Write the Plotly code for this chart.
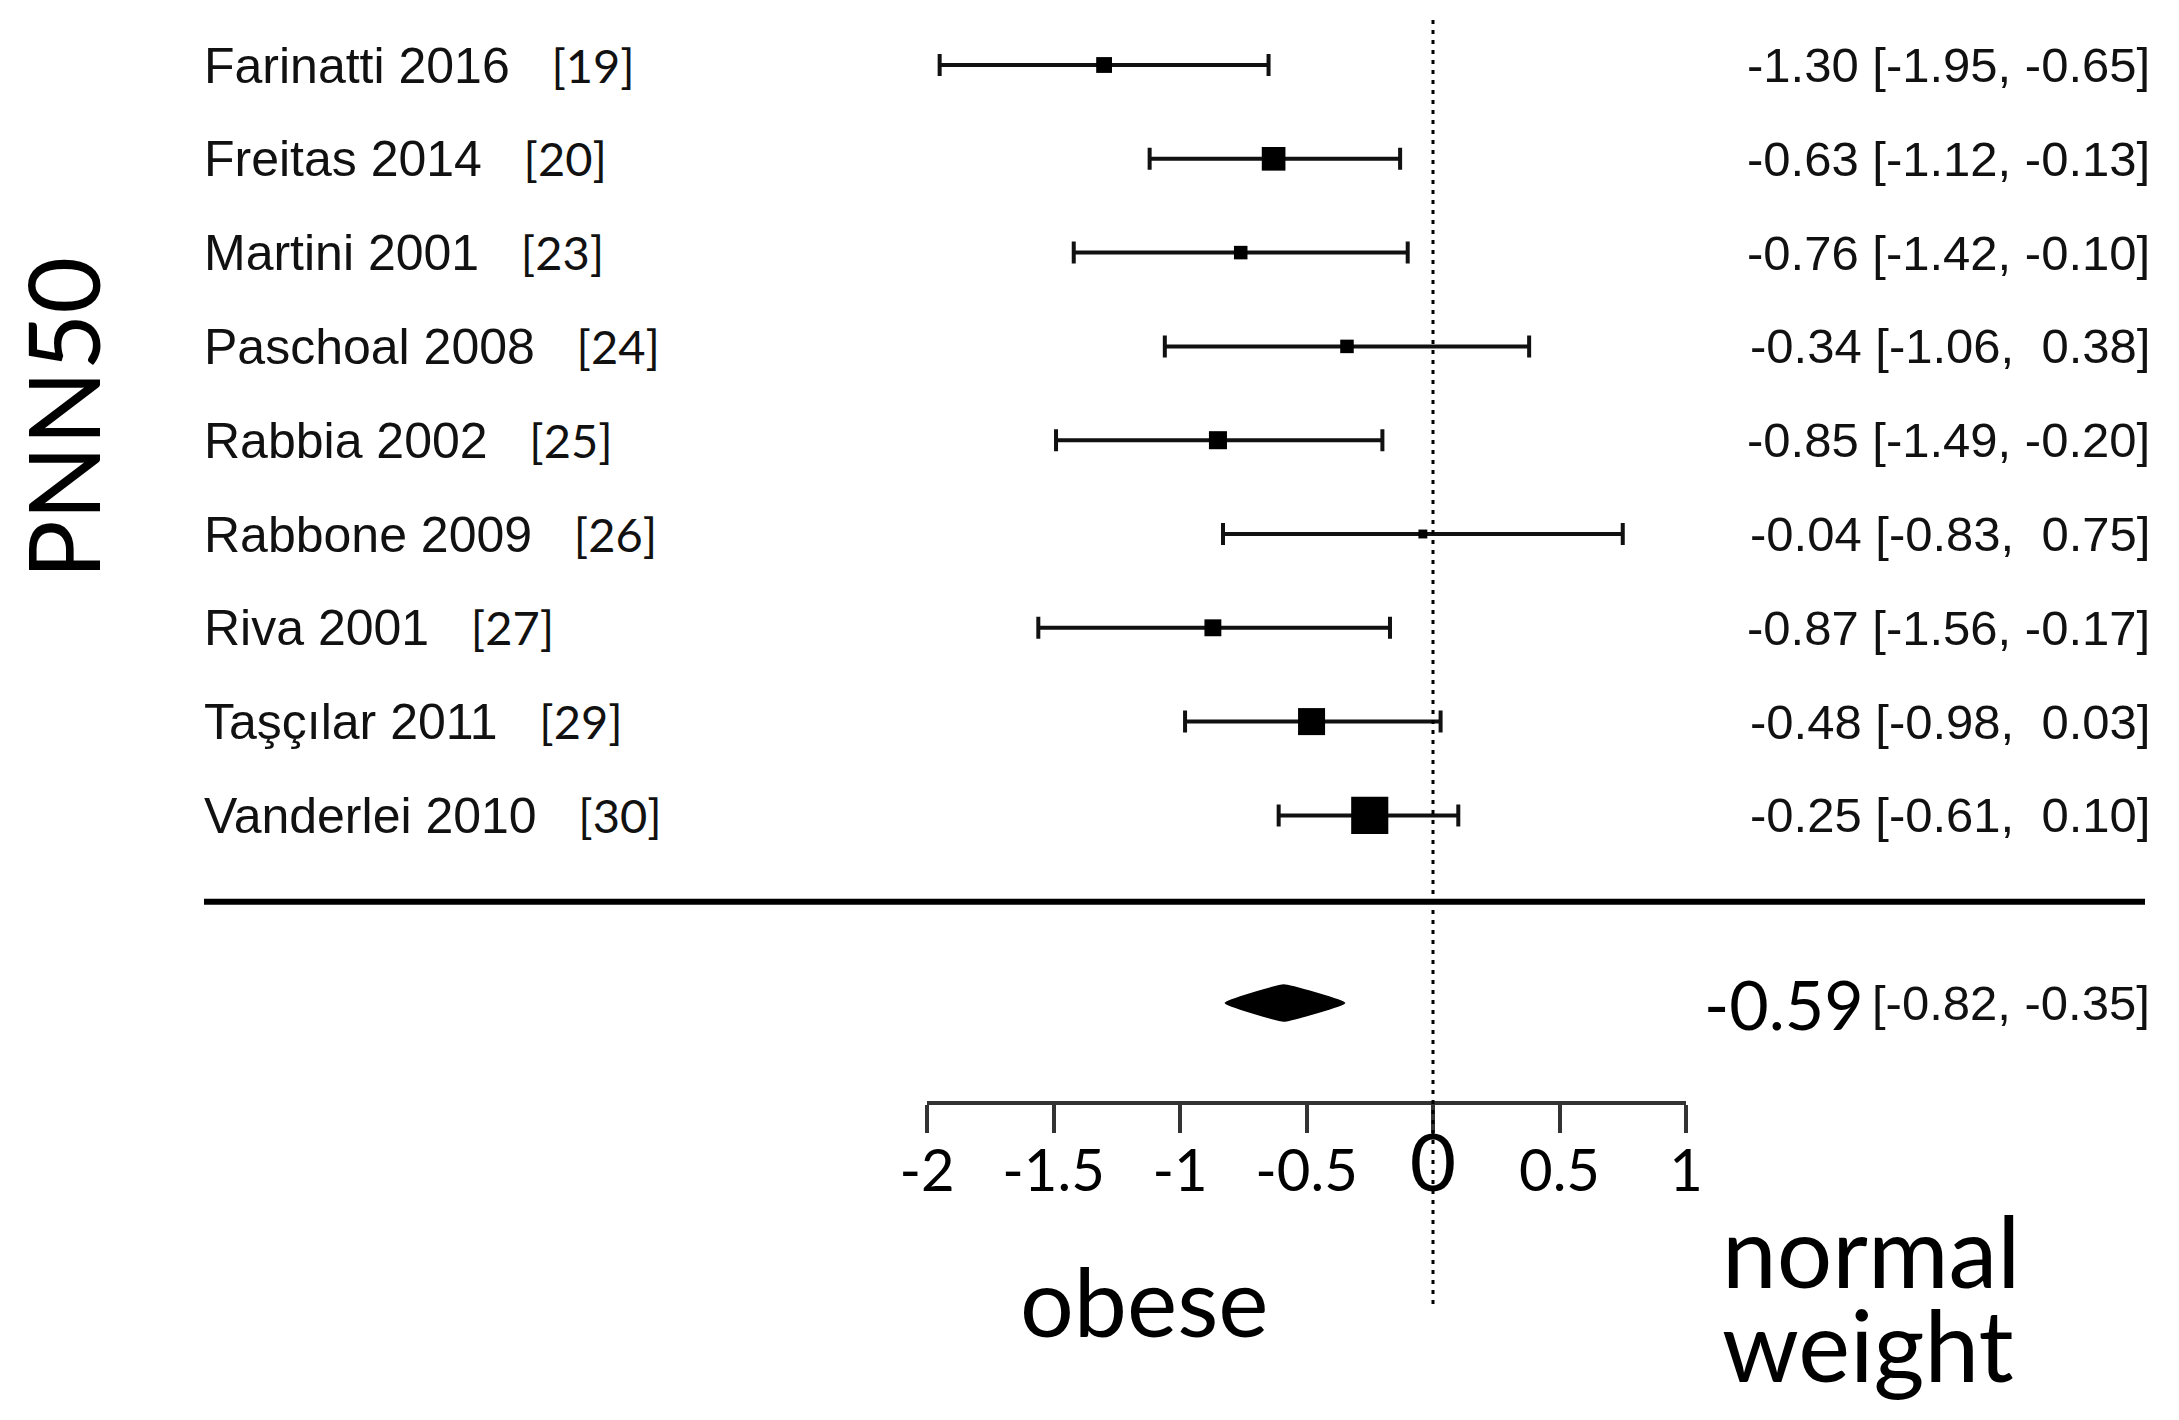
import plotly.graph_objects as go

# ---------------- data ----------------
studies = ["Farinatti 2016", "Freitas 2014", "Martini 2001", "Paschoal 2008",
           "Rabbia 2002", "Rabbone 2009", "Riva 2001", "Taşçılar 2011", "Vanderlei 2010"]
refs = ["[19]", "[20]", "[23]", "[24]", "[25]", "[26]", "[27]", "[29]", "[30]"]
estimates = [-1.30, -0.63, -0.76, -0.34, -0.85, -0.04, -0.87, -0.48, -0.25]
lower = [-1.95, -1.12, -1.42, -1.06, -1.49, -0.83, -1.56, -0.98, -0.61]
upper = [-0.65, -0.13, -0.10, 0.38, -0.20, 0.75, -0.17, 0.03, 0.10]
weights = [6.3, 14.1, 4.6, 4.6, 8.2, 2.0, 7.2, 18.4, 34.7]   # approx. relative weights (%)

pooled_est = -0.59
pooled_lo = -0.82
pooled_hi = -0.35

tick_vals = [-2, -1.5, -1, -0.5, 0, 0.5, 1]
tick_labels = ["-2", "-1.5", "-1", "-0.5", "0", "0.5", "1"]

outcome_label = "PNN50"
left_label = "obese"
right_label = ["normal", "weight"]

# ---------------- layout geometry ----------------
W, H = 2179, 1420
OFF = 8                      # page offset of the figure (body margin)
AX_LEFT_PX, AX_RIGHT_PX = 927, 1686     # page px of x=-2 and x=1
AX_LINE_PX = 1101                        # page px of the axis line
ROW0_PX, ROW_STEP = 65, 93.8             # page px of first row, row spacing

L_M = AX_LEFT_PX - OFF
R_M = W - (AX_RIGHT_PX - OFF)
T_M = 0
B_M = H - (AX_LINE_PX - OFF)
plot_w = W - L_M - R_M
plot_h = H - T_M - B_M
XMIN, XMAX = -2, 1
Y_TOP = -(ROW0_PX - OFF - T_M) / ROW_STEP
Y_BOT = Y_TOP + plot_h / ROW_STEP


def px_to_paper_x(px):
    return (px - OFF - L_M) / plot_w


def px_to_paper_y(py):
    return (T_M + plot_h - (py - OFF)) / plot_h


rows = list(range(len(studies)))
pooled_row = 10
sep_row = 8.92

INK = "#000000"
NAME_FONT = "Liberation Sans, Arial, sans-serif"
CAL_FONT = "Lato, Carlito, Calibri, sans-serif"


def fmt(v):
    s = f"{v:.2f}"
    return s if v < 0 else "\u00a0" + s


fig = go.Figure()

# study estimates with CI
fig.add_trace(go.Scatter(
    x=estimates, y=rows, mode="markers",
    marker=dict(symbol="square", color=INK, opacity=1,
                size=[6.3 * w ** 0.5 for w in weights], line=dict(width=0)),
    error_x=dict(type="data", symmetric=False,
                 array=[u - e for u, e in zip(upper, estimates)],
                 arrayminus=[e - l for e, l in zip(estimates, lower)],
                 color="#111111", thickness=4, width=11),
    cliponaxis=False, hoverinfo="skip", showlegend=False,
))

# pooled diamond
dh = 0.19
fig.add_trace(go.Scatter(
    x=[pooled_lo, pooled_est, pooled_hi, pooled_est, pooled_lo],
    y=[pooled_row, pooled_row - dh, pooled_row, pooled_row + dh, pooled_row],
    mode="lines", fill="toself", fillcolor=INK,
    line=dict(color=INK, width=2, shape="spline", smoothing=0.3),
    cliponaxis=False, hoverinfo="skip", showlegend=False,
))

# dotted null line
fig.add_shape(type="line", xref="x", yref="paper", x0=0, x1=0,
              y0=px_to_paper_y(1304), y1=px_to_paper_y(17),
              line=dict(color=INK, width=3, dash="4px,6px"))

# thick separator line
fig.add_shape(type="line", xref="paper", yref="y",
              x0=px_to_paper_x(204), x1=px_to_paper_x(2145),
              y0=sep_row, y1=sep_row, line=dict(color="#000000", width=6))

annotations = []
for r, name, ref in zip(rows, studies, refs):
    annotations.append(dict(
        xref="paper", yref="y", x=px_to_paper_x(202), y=r,
        xanchor="left", yanchor="middle", showarrow=False,
        text=f'{name}\u00a0\u00a0\u00a0<span style="font-family:Lato;font-size:47px">{ref}</span>',
        font=dict(family=NAME_FONT, size=50, color="#111111"),
    ))
for r, e, lo, hi in zip(rows, estimates, lower, upper):
    annotations.append(dict(
        xref="paper", yref="y", x=px_to_paper_x(2152), y=r,
        xanchor="right", yanchor="middle", showarrow=False,
        text=f"{e:.2f} [{lo:.2f}, {fmt(hi)}]",
        font=dict(family=NAME_FONT, size=49, color="#111111"),
    ))

# pooled texts
annotations.append(dict(
    xref="paper", yref="y", x=px_to_paper_x(1866), y=pooled_row,
    xanchor="right", yanchor="middle", showarrow=False,
    text=f"{pooled_est:.2f}", font=dict(family=CAL_FONT, size=68, color=INK),
))
annotations.append(dict(
    xref="paper", yref="y", x=px_to_paper_x(2152), y=pooled_row,
    xanchor="right", yanchor="middle", showarrow=False,
    text=f"[{pooled_lo:.2f}, {pooled_hi:.2f}]",
    font=dict(family=NAME_FONT, size=49, color="#111111"),
))

# direction labels
annotations.append(dict(
    xref="paper", yref="paper", x=px_to_paper_x(1144), y=px_to_paper_y(1300),
    xanchor="center", yanchor="middle", showarrow=False,
    text=left_label, font=dict(family=CAL_FONT, size=95, color="#000000"),
))
for txt, py in zip(right_label, [1250, 1344]):
    annotations.append(dict(
        xref="paper", yref="paper", x=px_to_paper_x(1720), y=px_to_paper_y(py),
        xanchor="left", yanchor="middle", showarrow=False,
        text=txt, font=dict(family=CAL_FONT, size=98, color="#000000"),
    ))

# outcome label
annotations.append(dict(
    xref="paper", yref="paper", x=px_to_paper_x(62), y=px_to_paper_y(418),
    xanchor="center", yanchor="middle", showarrow=False, textangle=-90,
    text=outcome_label, font=dict(family=CAL_FONT, size=98, color="#000000"),
))

tick_text = [f'<span style="font-size:80px">{t}</span>' if v == 0 else t
             for v, t in zip(tick_vals, tick_labels)]

fig.update_layout(
    width=W, height=H,
    margin=dict(l=L_M, r=R_M, t=T_M, b=B_M, pad=0),
    paper_bgcolor="white", plot_bgcolor="white",
    annotations=annotations,
    xaxis=dict(range=[XMIN, XMAX], showgrid=False, zeroline=False,
               showline=True, linecolor="#333333", linewidth=4,
               ticks="outside", ticklen=28, tickwidth=4, tickcolor="#333333",
               tickvals=tick_vals, ticktext=tick_text, ticklabelstandoff=-12,
               tickfont=dict(family=CAL_FONT, size=58, color="#000000"),
               fixedrange=True),
    yaxis=dict(range=[Y_BOT, Y_TOP], visible=False, showgrid=False,
               zeroline=False, fixedrange=True),
)

fig.write_html("out.html")
